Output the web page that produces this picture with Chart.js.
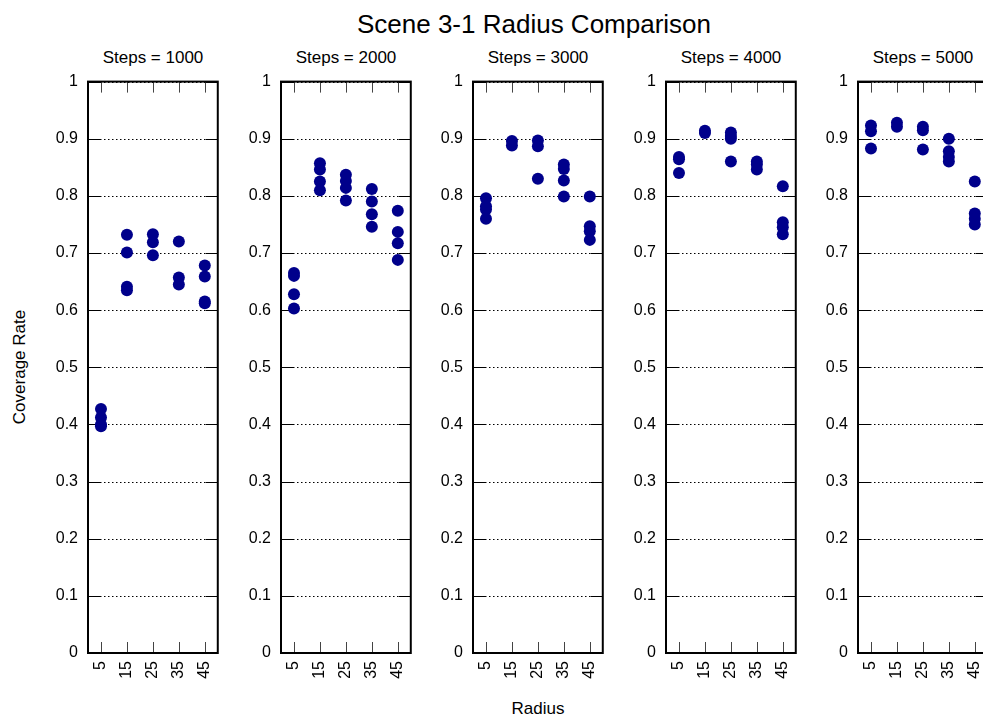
<!DOCTYPE html>
<html>
<head>
<meta charset="utf-8">
<title>Scene 3-1 Radius Comparison</title>
<script src="https://cdn.jsdelivr.net/npm/chart.js@4"></script>
<style>
  body { margin: 0; width: 983px; height: 720px; overflow: hidden; background: #fff; position: relative;
         font-family: "Liberation Sans", Arial, sans-serif; color: #000; }
  .txt { position: absolute; white-space: nowrap; line-height: 1; }
  canvas { position: absolute; }
</style>
</head>
<body>
<div class="txt" style="left:0;width:1068px;top:11px;font-size:26px;text-align:center;">Scene 3-1 Radius Comparison</div>
<div class="txt" style="left:538px;top:700px;font-size:17px;transform:translateX(-50%);">Radius</div>
<div class="txt" style="left:18.5px;top:367px;font-size:17px;transform:translate(-50%,-50%) rotate(-90deg);">Coverage Rate</div>

<script>
// dados (um array por raio, dentro de cada painel)
const raios = [5, 15, 25, 35, 45];
const passos = [1000, 2000, 3000, 4000, 5000];
const rotulosY = ["0", "0.1", "0.2", "0.3", "0.4", "0.5", "0.6", "0.7", "0.8", "0.9", "1"];

const cobertura1000 = [
  [0.427, 0.412, 0.400, 0.397],
  [0.732, 0.701, 0.641, 0.635],
  [0.733, 0.719, 0.696],
  [0.720, 0.657, 0.645],
  [0.678, 0.659, 0.615, 0.612]
];
const cobertura2000 = [
  [0.665, 0.660, 0.628, 0.603],
  [0.857, 0.846, 0.825, 0.810],
  [0.837, 0.826, 0.814, 0.792],
  [0.812, 0.790, 0.768, 0.746],
  [0.774, 0.737, 0.717, 0.688]
];
const cobertura3000 = [
  [0.796, 0.782, 0.776, 0.760],
  [0.896, 0.888],
  [0.897, 0.887, 0.830],
  [0.855, 0.847, 0.827, 0.799],
  [0.799, 0.747, 0.738, 0.723]
];
const cobertura4000 = [
  [0.868, 0.864, 0.840],
  [0.914, 0.910],
  [0.911, 0.905, 0.900, 0.860],
  [0.860, 0.855, 0.846],
  [0.817, 0.754, 0.745, 0.733]
];
const cobertura5000 = [
  [0.923, 0.913, 0.883],
  [0.928, 0.921],
  [0.921, 0.915, 0.881],
  [0.900, 0.878, 0.868, 0.860],
  [0.825, 0.769, 0.760, 0.750]
];
const coberturas = [cobertura1000, cobertura2000, cobertura3000, cobertura4000, cobertura5000];

Chart.defaults.font.family = '"Liberation Sans", Arial, sans-serif';
Chart.defaults.font.size = 16;
Chart.defaults.color = "#000";

// moldura estilo gnuplot: caixa, ticks para dentro e grade pontilhada
const moldura = {
  id: "moldura",
  beforeDatasetsDraw(chart) {
    const { ctx, chartArea: a, scales: { x, y } } = chart;
    ctx.save();
    ctx.strokeStyle = "#000";
    ctx.lineWidth = 1;
    rotulosY.forEach(t => {
      const py = Math.round(y.getPixelForValue(parseFloat(t))) + 0.5;
      ctx.setLineDash([]);
      ctx.beginPath();
      ctx.moveTo(a.left, py); ctx.lineTo(a.left + 12, py);
      ctx.moveTo(a.right - 12, py); ctx.lineTo(a.right, py);
      ctx.stroke();
      ctx.setLineDash([1.5, 2.5]);
      ctx.beginPath();
      ctx.moveTo(a.left + 12, py); ctx.lineTo(a.right - 12, py);
      ctx.stroke();
    });
    ctx.setLineDash([]);
    ctx.strokeStyle = "#444";
    raios.forEach(r => {
      const px = Math.round(x.getPixelForValue(r)) + 0.5;
      ctx.beginPath();
      ctx.moveTo(px, a.top); ctx.lineTo(px, a.top + 11);
      ctx.moveTo(px, a.bottom); ctx.lineTo(px, a.bottom - 11);
      ctx.stroke();
    });
    ctx.strokeStyle = "#000";
    ctx.lineWidth = 2;
    ctx.strokeRect(a.left, a.top, a.right - a.left, a.bottom - a.top);
    ctx.restore();
  }
};

const larguraArea = 130;
const alturaArea = 571;
const topoArea = 82;

passos.forEach((passo, i) => {
  const esquerdaArea = 88 + Math.round(i * 192.5);

  const rotulo = document.createElement("div");
  rotulo.className = "txt";
  rotulo.style.left = (esquerdaArea + larguraArea / 2) + "px";
  rotulo.style.top = "49px";
  rotulo.style.fontSize = "17px";
  rotulo.style.transform = "translateX(-50%)";
  rotulo.textContent = `Steps = ${passo}`;
  document.body.appendChild(rotulo);

  const canvas = document.createElement("canvas");
  canvas.width = 200;
  canvas.height = 640;
  canvas.style.left = (esquerdaArea - 60) + "px";
  canvas.style.top = "70px";
  document.body.appendChild(canvas);

  const pontos = [];
  coberturas[i].forEach((valores, j) => {
    valores.forEach(v => pontos.push({ x: raios[j], y: v }));
  });

  const grafico = new Chart(canvas, {
    type: "scatter",
    data: {
      datasets: [{
        data: pontos,
        backgroundColor: "#00008b",
        borderWidth: 0,
        pointRadius: 6
      }]
    },
    options: {
      responsive: false,
      maintainAspectRatio: false,
      animation: false,
      events: [],
      layout: { padding: { top: 12, right: 10, left: 0, bottom: 0 } },
      plugins: { legend: { display: false }, tooltip: { enabled: false } },
      scales: {
        x: {
          type: "linear",
          min: 0,
          max: 50,
          grid: { display: false, drawTicks: false },
          border: { display: false },
          afterBuildTicks: s => { s.ticks = raios.map(r => ({ value: r })); },
          afterFit: s => { s.height = 57; },
          ticks: {
            minRotation: 90,
            maxRotation: 90,
            padding: 8,
            callback: (v, k) => String(raios[k])
          }
        },
        y: {
          min: 0,
          max: 1,
          grid: { display: false, drawTicks: false },
          border: { display: false },
          afterBuildTicks: s => { s.ticks = rotulosY.map(t => ({ value: parseFloat(t) })); },
          afterFit: s => { s.width = 60; },
          ticks: {
            padding: 10,
            callback: (v, k) => rotulosY[k]
          }
        }
      }
    },
    plugins: [moldura]
  });

  // ajusta o tamanho do canvas até a área do gráfico ficar 130 x 571
  for (let k = 0; k < 3; k++) {
    const a = grafico.chartArea;
    const w = Math.round(grafico.width + larguraArea - (a.right - a.left));
    const h = Math.round(grafico.height + alturaArea - (a.bottom - a.top));
    if (w === grafico.width && h === grafico.height) break;
    grafico.resize(w, h);
  }
  const area = grafico.chartArea;
  canvas.style.left = Math.round(esquerdaArea - area.left) + "px";
  canvas.style.top = Math.round(topoArea - area.top) + "px";
});
</script>
</body>
</html>
